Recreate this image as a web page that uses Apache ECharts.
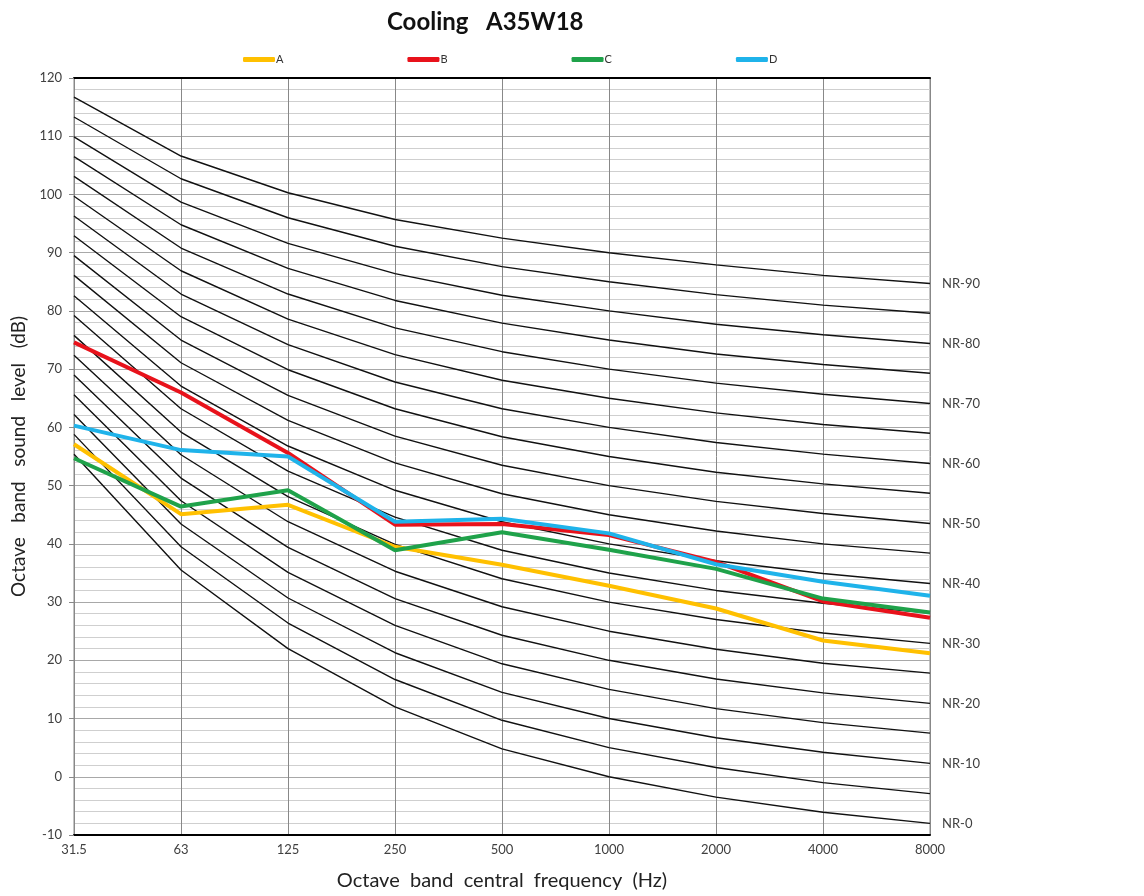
<!DOCTYPE html>
<html>
<head>
<meta charset="utf-8">
<script src="https://cdn.jsdelivr.net/npm/echarts@6/dist/echarts.min.js"></script>
<style>html,body{margin:0;padding:0;background:#fff;}#chart{width:1144px;height:896px;}</style>
</head>
<body>
<div id="chart"></div>
<script>
const categories = ['31.5','63','125','250','500','1000','2000','4000','8000'];

// Measured series
const seriesA = [57.1, 45.1, 46.7, 39.5, 36.4, 32.8, 28.9, 23.4, 21.2];
const seriesB = [74.6, 66.0, 55.6, 43.3, 43.4, 41.5, 36.9, 30.1, 27.3];
const seriesC = [54.7, 46.4, 49.2, 38.9, 42.0, 39.0, 35.7, 30.6, 28.2];
const seriesD = [60.3, 56.1, 55.0, 43.8, 44.3, 41.8, 36.5, 33.5, 31.1];

// NR reference curves
const nr0  = [55.4, 35.5, 22.0, 12.0, 4.8, 0, -3.5, -6.1, -8.0];
const nr5  = [58.8, 39.5, 26.4, 16.7, 9.7, 5, 1.6, -1.0, -2.9];
const nr10 = [62.2, 43.4, 30.7, 21.3, 14.5, 10, 6.7, 4.2, 2.3];
const nr15 = [65.6, 47.4, 35.1, 26.0, 19.4, 15, 11.7, 9.3, 7.5];
const nr20 = [69.0, 51.3, 39.4, 30.6, 24.3, 20, 16.8, 14.4, 12.6];
const nr25 = [72.4, 55.3, 43.8, 35.3, 29.2, 25, 21.9, 19.5, 17.8];
const nr30 = [75.8, 59.2, 48.1, 39.9, 34.0, 30, 27.0, 24.7, 22.9];
const nr35 = [79.2, 63.2, 52.5, 44.6, 38.9, 35, 32.0, 29.8, 28.1];
const nr40 = [82.6, 67.1, 56.8, 49.2, 43.8, 40, 37.1, 34.9, 33.2];
const nr45 = [86.1, 71.1, 61.2, 53.9, 48.6, 45, 42.2, 40.0, 38.4];
const nr50 = [89.5, 75.0, 65.5, 58.5, 53.5, 50, 47.3, 45.2, 43.5];
const nr55 = [92.9, 79.0, 69.9, 63.2, 58.4, 55, 52.3, 50.3, 48.7];
const nr60 = [96.3, 82.9, 74.2, 67.8, 63.2, 60, 57.4, 55.4, 53.8];
const nr65 = [99.7, 86.9, 78.6, 72.5, 68.1, 65, 62.5, 60.5, 59.0];
const nr70 = [103.1, 90.8, 82.9, 77.1, 73.0, 70, 67.6, 65.7, 64.1];
const nr75 = [106.5, 94.8, 87.3, 81.8, 77.9, 75, 72.6, 70.8, 69.3];
const nr80 = [109.9, 98.7, 91.6, 86.4, 82.7, 80, 77.7, 75.9, 74.4];
const nr85 = [113.3, 102.7, 96.0, 91.1, 87.6, 85, 82.8, 81.0, 79.6];
const nr90 = [116.7, 106.6, 100.3, 95.7, 92.5, 90, 87.9, 86.1, 84.7];

const nrCurves = [
  ['NR-0', nr0], ['NR-5', nr5], ['NR-10', nr10], ['NR-15', nr15], ['NR-20', nr20],
  ['NR-25', nr25], ['NR-30', nr30], ['NR-35', nr35], ['NR-40', nr40], ['NR-45', nr45],
  ['NR-50', nr50], ['NR-55', nr55], ['NR-60', nr60], ['NR-65', nr65], ['NR-70', nr70],
  ['NR-75', nr75], ['NR-80', nr80], ['NR-85', nr85], ['NR-90', nr90]
];
const labelledNR = ['NR-0','NR-10','NR-20','NR-30','NR-40','NR-50','NR-60','NR-70','NR-80','NR-90'];

const FONT = 'Lato, "Open Sans", sans-serif';

const nrSeries = nrCurves.map(([name, data]) => ({
  name: name,
  type: 'line',
  data: data,
  symbol: 'none',
  silent: true,
  z: 2,
  lineStyle: { color: '#111', width: 1.4 },
  endLabel: {
    show: labelledNR.includes(name),
    formatter: name,
    distance: 12,
    color: '#404040',
    fontSize: 13,
    fontFamily: FONT
  }
}));

const colored = [
  ['A', seriesA, '#FFC000'],
  ['B', seriesB, '#E8121B'],
  ['C', seriesC, '#1FA24A'],
  ['D', seriesD, '#1FB3EA']
].map(([name, data, color]) => ({
  name: name,
  type: 'line',
  data: data,
  symbol: 'none',
  z: 5,
  color: color,
  lineStyle: { color: color, width: 4 }
}));

const chart = echarts.init(document.getElementById('chart'), null, { renderer: 'canvas' });
chart.setOption({
  animation: false,
  backgroundColor: '#fff',
  title: {
    text: 'Cooling   A35W18',
    left: 382,
    top: 5,
    textStyle: { fontFamily: FONT, fontSize: 24, fontWeight: 'bold', color: '#111' }
  },
  legend: {
    data: ['A','B','C','D'],
    left: 238,
    top: 49,
    icon: 'roundRect',
    itemWidth: 32,
    itemHeight: 5,
    itemGap: 124,
    textStyle: { fontFamily: FONT, fontSize: 11, color: '#333', padding: [0,0,0,-4] }
  },
  grid: {
    left: 74, right: 214, top: 78, bottom: 59,
    show: true, borderColor: '#888', borderWidth: 1
  },
  xAxis: [{
    type: 'category',
    data: categories,
    boundaryGap: false,
    position: 'bottom',
    axisLine: { onZero: false, lineStyle: { color: '#000', width: 2 } },
    axisTick: { show: false },
    axisLabel: { fontFamily: FONT, fontSize: 13, color: '#404040', margin: 8 },
    splitLine: { show: true, lineStyle: { color: '#888', width: 1 } },
    name: 'Octave  band  central  frequency  (Hz)',
    nameLocation: 'middle',
    nameGap: 36,
    nameTextStyle: { fontFamily: FONT, fontSize: 20, color: '#222' }
  }, {
    type: 'category',
    data: categories,
    boundaryGap: false,
    position: 'top',
    axisLine: { onZero: false, lineStyle: { color: '#000', width: 2 } },
    axisTick: { show: false },
    axisLabel: { show: false },
    splitLine: { show: false }
  }],
  yAxis: {
    type: 'value',
    min: -10, max: 120, interval: 10,
    axisLine: { show: true, lineStyle: { color: '#888' } },
    axisTick: { show: true, length: 5, lineStyle: { color: '#888' } },
    minorTick: { show: false, splitNumber: 5 },
    axisLabel: { fontFamily: FONT, fontSize: 13, color: '#404040', margin: 12 },
    splitLine: { show: true, lineStyle: { color: '#a8a8a8', width: 1 } },
    minorSplitLine: { show: true, lineStyle: { color: '#cfcfcf', width: 1 } },
    name: 'Octave   band   sound   level   (dB)',
    nameLocation: 'middle',
    nameGap: 46,
    nameTextStyle: { fontFamily: FONT, fontSize: 19, color: '#222' }
  },
  series: nrSeries.concat(colored)
});
</script>
</body>
</html>
